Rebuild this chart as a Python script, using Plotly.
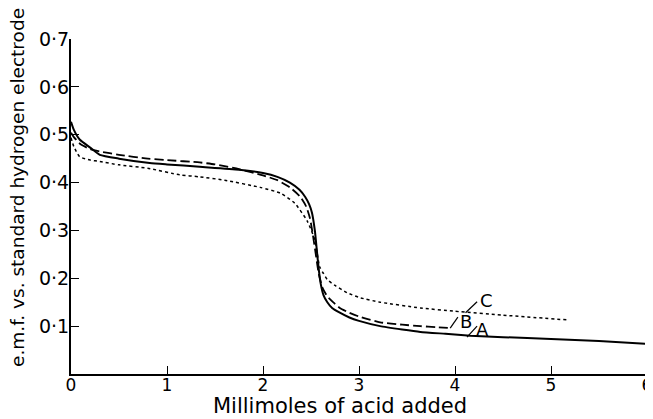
import plotly.graph_objects as go

# Curve A (solid)
a_x = [0, 0.03, 0.09, 0.2, 0.3, 0.5, 0.82, 1.0, 1.34, 1.75, 2.0, 2.15, 2.28, 2.38, 2.44, 2.48, 2.51,
       2.54, 2.56, 2.58, 2.60, 2.63, 2.67, 2.72, 2.80, 2.9, 3.0, 3.22, 3.45, 3.64, 3.9, 4.16, 4.5,
       5.0, 5.5, 6.0]
a_y = [0.527, 0.51, 0.49, 0.473, 0.458, 0.450, 0.441, 0.438, 0.433, 0.427, 0.42, 0.412, 0.40, 0.385,
       0.37, 0.355, 0.337, 0.30, 0.26, 0.22, 0.19, 0.165, 0.15, 0.138, 0.128, 0.118, 0.111, 0.10,
       0.093, 0.088, 0.084, 0.080, 0.077, 0.073, 0.069, 0.063]

# Curve B (long dashes)
b_x = [0, 0.03, 0.1, 0.2, 0.3, 0.5, 0.8, 1.0, 1.34, 1.5, 1.75, 2.0, 2.15, 2.28, 2.39, 2.45, 2.49,
       2.52, 2.55, 2.58, 2.62, 2.67, 2.73, 2.80, 2.9, 3.0, 3.22, 3.45, 3.64, 3.8, 3.95]
b_y = [0.504, 0.495, 0.48, 0.47, 0.465, 0.458, 0.45, 0.447, 0.442, 0.438, 0.428, 0.415, 0.405, 0.39,
       0.37, 0.35, 0.325, 0.29, 0.25, 0.21, 0.18, 0.162, 0.15, 0.138, 0.128, 0.12, 0.108, 0.103,
       0.10, 0.098, 0.096]

# Curve C (short dashes)
c_x = [0, 0.03, 0.09, 0.2, 0.3, 0.5, 0.8, 1.135, 1.34, 1.6, 1.97, 2.18, 2.33, 2.46, 2.54, 2.59,
       2.63, 2.67, 2.75, 2.875, 3.0, 3.22, 3.64, 4.0, 4.5, 5.17]
c_y = [0.494, 0.475, 0.454, 0.447, 0.444, 0.437, 0.43, 0.416, 0.412, 0.405, 0.39, 0.378, 0.357,
       0.32, 0.28, 0.224, 0.21, 0.197, 0.185, 0.17, 0.16, 0.15, 0.138, 0.131, 0.123, 0.113]

x_ticks = [0, 1, 2, 3, 4, 5, 6]
x_tick_text = ["0", "1", "2", "3", "4", "5", "6"]
y_ticks = [0.1, 0.2, 0.3, 0.4, 0.5, 0.6, 0.7]
y_tick_text = ["0·1", "0·2", "0·3", "0·4", "0·5", "0·6", "0·7"]

x_title = "Millimoles of acid added"
y_title = "e.m.f. vs. standard hydrogen electrode"

labels = ["A", "B", "C"]
label_x = [4.29, 4.11, 4.33]
label_y = [0.092, 0.109, 0.153]
# leader lines: (x0, y0, x1, y1)
leaders = [(4.23, 0.100, 4.125, 0.077), (4.03, 0.119, 3.95, 0.096), (4.23, 0.151, 4.11, 0.128)]

FONT = "DejaVu Sans"

fig = go.Figure()
fig.add_trace(go.Scatter(x=a_x, y=a_y, mode="lines",
                         line=dict(color="black", width=2, shape="spline", smoothing=0.5)))
fig.add_trace(go.Scatter(x=b_x, y=b_y, mode="lines",
                         line=dict(color="black", width=1.8, dash="9px,4px", shape="spline", smoothing=0.5)))
fig.add_trace(go.Scatter(x=c_x, y=c_y, mode="lines",
                         line=dict(color="black", width=1.5, dash="3px,3px", shape="spline", smoothing=0.5)))

for t, lx, ly in zip(labels, label_x, label_y):
    fig.add_annotation(x=lx, y=ly, text=t, showarrow=False,
                       font=dict(family=FONT, size=18, color="black"))
for (x0, y0, x1, y1) in leaders:
    fig.add_shape(type="line", x0=x0, y0=y0, x1=x1, y1=y1, xref="x", yref="y",
                  line=dict(color="black", width=1.2))

# axis titles placed as annotations relative to the plot area
fig.add_annotation(xref="paper", yref="paper", x=(340 - 71) / 576, y=-(406 - 374) / 335,
                   text=x_title, showarrow=False, xanchor="center", yanchor="middle",
                   font=dict(family=FONT, size=21, color="black"))
fig.add_annotation(xref="paper", yref="paper", x=-(71 - 17) / 576, y=(374 - 188) / 335,
                   text=y_title, showarrow=False, textangle=-90, xanchor="center", yanchor="middle",
                   font=dict(family=FONT, size=18.5, color="black"))

fig.update_layout(
    width=645, height=411,
    margin=dict(l=63, r=6, t=31, b=45, autoexpand=False),
    paper_bgcolor="white", plot_bgcolor="white",
    showlegend=False,
    font=dict(family=FONT, color="black"),
)
fig.update_xaxes(range=[0, 6], tickvals=x_ticks, ticktext=x_tick_text,
                 ticks="inside", ticklen=8, tickwidth=1.2, tickcolor="black",
                 showline=True, linecolor="black", linewidth=2, showgrid=False, zeroline=False,
                 tickfont=dict(family=FONT, size=17, color="black"), automargin=False,
                 ticklabeloverflow="allow", ticklabelstandoff=-5)
fig.update_yaxes(range=[0, 0.7], tickvals=y_ticks, ticktext=y_tick_text,
                 ticks="inside", ticklen=8, tickwidth=1.2, tickcolor="black",
                 showline=True, linecolor="black", linewidth=2, showgrid=False, zeroline=False,
                 tickfont=dict(family=FONT, size=19, color="black"), automargin=False,
                 ticklabelstandoff=-4)

fig.write_html("out.html")
